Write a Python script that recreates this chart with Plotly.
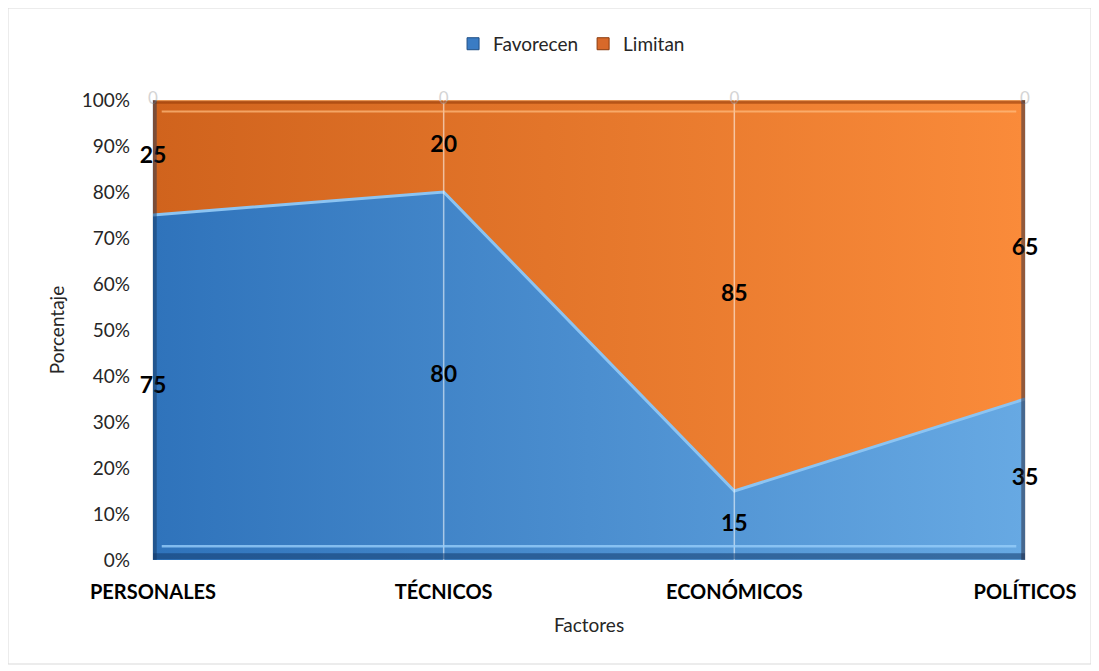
import plotly.graph_objects as go

categories = ["PERSONALES", "TÉCNICOS", "ECONÓMICOS", "POLÍTICOS"]
favorecen = [75, 80, 15, 35]
limitan = [25, 20, 85, 65]
extra = [0, 0, 0, 0]
y_ticks = [0, 10, 20, 30, 40, 50, 60, 70, 80, 90, 100]

FONT = "Lato"
fig = go.Figure()

fig.add_trace(go.Scatter(
    x=categories, y=favorecen, name="Favorecen", stackgroup="one", groupnorm="percent",
    mode="lines", line=dict(color="#8cc4f2", width=3), showlegend=False,
    fillgradient=dict(type="horizontal", colorscale=[[0, "#2f73bb"], [1, "#67a9e3"]]),
    hoverinfo="skip",
))
fig.add_trace(go.Scatter(
    x=categories, y=limitan, name="Limitan", stackgroup="one", showlegend=False,
    mode="lines", line=dict(color="#f6a460", width=3),
    fillgradient=dict(type="horizontal", colorscale=[[0, "#d0631d"], [1, "#fa8b3a"]]),
    hoverinfo="skip",
))
# legend entries (square swatches)
fig.add_trace(go.Bar(x=[None], y=[None], name="Favorecen",
                     marker=dict(color="#3a7cc4", line=dict(color="#1f4f85", width=1))))
fig.add_trace(go.Bar(x=[None], y=[None], name="Limitan",
                     marker=dict(color="#d8692a", line=dict(color="#8a3a0c", width=1))))

# data labels at mid-height of each band
totals = [f + l for f, l in zip(favorecen, limitan)]
fav_pct = [100 * f / t for f, t in zip(favorecen, totals)]
lim_pct = [100 * l / t for l, t in zip(limitan, totals)]
fig.add_trace(go.Scatter(
    x=categories, y=[p / 2 for p in fav_pct], mode="text", text=[str(v) for v in favorecen],
    textfont=dict(family=FONT, size=23, color="black", weight="bold"),
    showlegend=False, cliponaxis=False, hoverinfo="skip",
))
fig.add_trace(go.Scatter(
    x=categories, y=[f + l / 2 for f, l in zip(fav_pct, lim_pct)], mode="text",
    text=[str(v) for v in limitan],
    textfont=dict(family=FONT, size=23, color="black", weight="bold"),
    showlegend=False, cliponaxis=False, hoverinfo="skip",
))
fig.add_trace(go.Scatter(
    x=categories, y=[100 + e for e in extra], mode="text", text=[str(v) for v in extra],
    textfont=dict(family=FONT, size=17, color="#d4d4d4"),
    showlegend=False, cliponaxis=False, hoverinfo="skip",
))

# vertical gridlines above the areas
for c in categories[1:3]:
    fig.add_shape(type="line", xref="x", yref="y", x0=c, x1=c, y0=0, y1=100,
                  line=dict(color="rgba(255,255,255,0.55)", width=1.5), layer="above")
# bevel-like edges
fig.add_shape(type="line", xref="paper", yref="y", x0=0, x1=1, y0=0.8, y1=0.8,
              line=dict(color="rgba(20,60,110,0.55)", width=6), layer="above")
fig.add_shape(type="line", xref="paper", yref="y", x0=0.01, x1=0.99, y0=3, y1=3,
              line=dict(color="rgba(150,205,250,0.8)", width=2.5), layer="above")
fig.add_shape(type="line", xref="paper", yref="y", x0=0, x1=1, y0=99.5, y1=99.5,
              line=dict(color="rgba(150,60,10,0.6)", width=3), layer="above")
fig.add_shape(type="line", xref="paper", yref="y", x0=0.01, x1=0.99, y0=97.5, y1=97.5,
              line=dict(color="rgba(255,190,130,0.7)", width=2), layer="above")
fig.add_shape(type="line", xref="paper", yref="paper", x0=0.002, x1=0.002, y0=0, y1=1,
              line=dict(color="rgba(20,50,90,0.45)", width=4), layer="above")
fig.add_shape(type="line", xref="paper", yref="paper", x0=0.998, x1=0.998, y0=0, y1=1,
              line=dict(color="rgba(40,40,60,0.5)", width=4), layer="above")

# outer frame
fig.add_shape(type="rect", xref="paper", yref="paper",
              x0=(8 - 153) / 872, x1=(1091 - 153) / 872,
              y0=(560 - 664) / 460, y1=(560 - 8) / 460,
              line=dict(color="#d9d9d9", width=1), layer="below")

fig.update_layout(
    width=1099, height=671,
    margin=dict(l=145, r=82, t=92, b=119),
    paper_bgcolor="white", plot_bgcolor="white",
    font=dict(family=FONT, size=18, color="#262626"),
    legend=dict(orientation="h", x=0.48, xanchor="center", y=1.122, yanchor="middle",
                font=dict(family=FONT, size=19, color="#262626"),
                traceorder="normal", itemwidth=30, tracegroupgap=0),
    xaxis=dict(type="category", range=[0, 3], showgrid=False, zeroline=False,
               showline=False, ticks="", ticklabelstandoff=18,
               tickfont=dict(family=FONT, size=20, color="black", weight="bold"),
               title=dict(text="Factores", font=dict(family=FONT, size=19, color="#262626"), standoff=16)),
    yaxis=dict(range=[0, 100], tickvals=y_ticks, ticktext=[f"{v}%" for v in y_ticks],
               showgrid=False, zeroline=False, showline=False, ticks="", ticklabelstandoff=22,
               tickfont=dict(family=FONT, size=19, color="#262626"),
               title=dict(text="Porcentaje", font=dict(family=FONT, size=19, color="#262626"), standoff=12)),
    showlegend=True,
    bargap=0,
)

fig.write_html("out.html")
